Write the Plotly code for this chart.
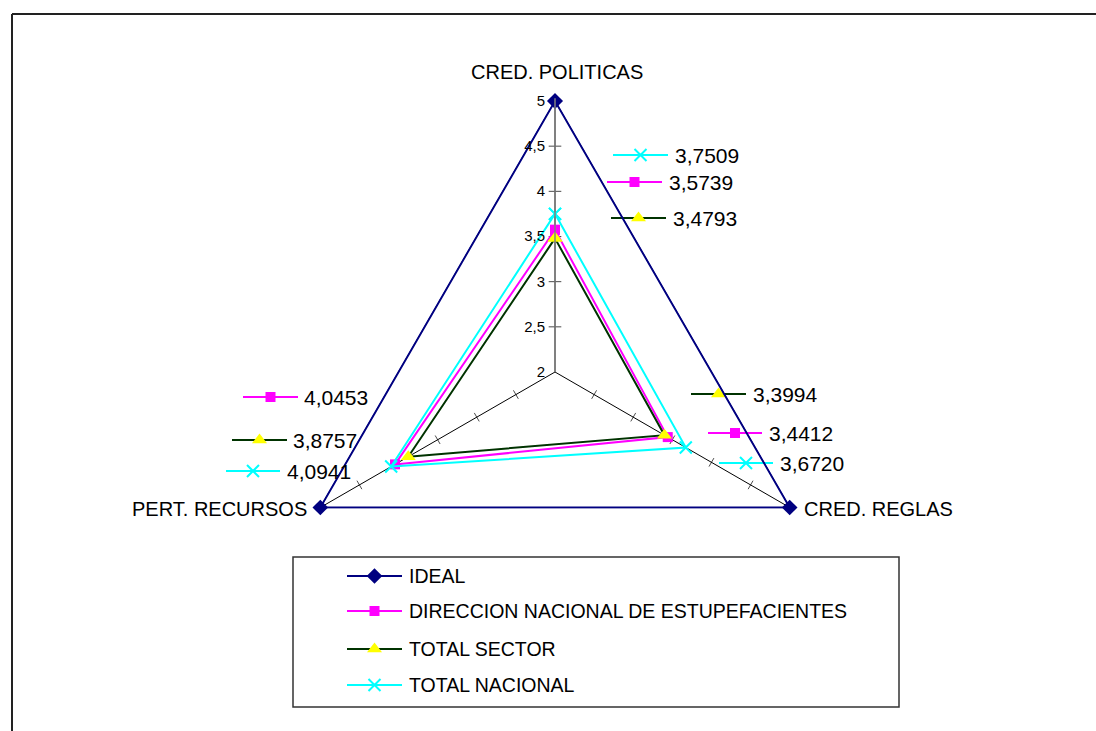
import math
import plotly.graph_objects as go

# ---------------- data ----------------
categories = ["CRED. POLITICAS", "CRED. REGLAS", "PERT. RECURSOS"]
series_names = ["IDEAL", "DIRECCION NACIONAL DE ESTUPEFACIENTES", "TOTAL SECTOR", "TOTAL NACIONAL"]
ideal = [5, 5, 5]
dne = [3.5739, 3.4412, 4.0453]
sector = [3.4793, 3.3994, 3.8757]
nacional = [3.7509, 3.6720, 4.0941]
radial_ticks = [2, 2.5, 3, 3.5, 4, 4.5, 5]
radial_tick_labels = ["2", "2,5", "3", "3,5", "4", "4,5", "5"]

# ---------------- styles ----------------
W, H = 1096, 731
FONT = "Arial, Liberation Sans, sans-serif"
styles = {
    "IDEAL": dict(line="#000080", marker="#000080", symbol="diamond", size=12, mline=0),
    "DIRECCION NACIONAL DE ESTUPEFACIENTES": dict(line="#FF00FF", marker="#FF00FF", symbol="square", size=10, mline=0),
    "TOTAL SECTOR": dict(line="#003300", marker="#FFFF00", symbol="triangle-up", size=13, mline=0),
    "TOTAL NACIONAL": dict(line="#00FFFF", marker="#00FFFF", symbol="x-thin-open", size=12, mline=2),
}
values = {
    "IDEAL": ideal,
    "DIRECCION NACIONAL DE ESTUPEFACIENTES": dne,
    "TOTAL SECTOR": sector,
    "TOTAL NACIONAL": nacional,
}

# polar placement (pixels); a small headroom beyond 5 keeps the outer line unclipped
R_MIN, R_MAX, R_TOP = 2, 5.03, 5
CX, CY, R5 = 555, 372, 271
R = R5 * (R_MAX - R_MIN) / (R_TOP - R_MIN)
dom_x = [(CX - R) / W, (CX + R) / W]
dom_y = [(H - CY - R) / H, (H - CY + R) / H]

fig = go.Figure()

def mk_marker(st):
    m = dict(symbol=st["symbol"], size=st["size"], color=st["marker"])
    if st["symbol"].endswith("open"):
        m["line"] = dict(color=st["marker"], width=st["mline"])
    else:
        m["line"] = dict(width=0)
    return m

# tick marks on the spokes
tick_r, tick_t, tick_a, tick_s = [], [], [], []
for v in radial_ticks[1:-1]:
    tick_r += [v, v, v]
    tick_t += [categories[0], categories[1], categories[2]]
    tick_a += [0, -60, 60]
    tick_s += [9, 7, 7]
fig.add_trace(go.Scatterpolar(
    r=tick_r, theta=tick_t, mode="markers", hoverinfo="skip", showlegend=False,
    marker=dict(symbol="line-ew", size=tick_s, angle=tick_a,
                line=dict(color="black", width=1), color="black"),
))

# data series (closed polygons)
for name in series_names:
    st = styles[name]
    vals = values[name]
    fig.add_trace(go.Scatterpolar(
        r=vals + [vals[0]], theta=categories + [categories[0]],
        mode="lines+markers", name=name, showlegend=False, cliponaxis=False,
        line=dict(color=st["line"], width=2),
        marker=mk_marker(st),
    ))

# ---------------- overlay (pixel coordinates) for legend & labels ----------------
annotations = []

# category labels next to the spoke ends (Excel style)
cos30, sin30 = math.cos(math.radians(30)), math.sin(math.radians(30))
cat_label_pos = [
    dict(x=CX + 2, y=CY - R5 - 29, xanchor="center"),
    dict(x=CX + R5 * cos30 + 12, y=CY + R5 * sin30 + 1, xanchor="left"),
    dict(x=CX - R5 * cos30 - 11, y=CY + R5 * sin30 + 1, xanchor="right"),
]
for cat, pos in zip(categories, cat_label_pos):
    annotations.append(dict(text=cat, xref="x", yref="y", showarrow=False, yanchor="middle",
                            font=dict(family=FONT, size=20, color="black"), **pos))

# data labels with legend keys: (series, category index, key x0, key x1, y, text x)
label_layout = [
    ("TOTAL NACIONAL", 0, 613, 668, 155, 673),
    ("DIRECCION NACIONAL DE ESTUPEFACIENTES", 0, 607, 662, 182, 667),
    ("TOTAL SECTOR", 0, 611, 666, 218, 671),
    ("TOTAL SECTOR", 1, 691, 746, 394, 751),
    ("DIRECCION NACIONAL DE ESTUPEFACIENTES", 1, 708, 762, 433, 767),
    ("TOTAL NACIONAL", 1, 719, 773, 463, 778),
    ("DIRECCION NACIONAL DE ESTUPEFACIENTES", 2, 243, 298, 397, 302),
    ("TOTAL SECTOR", 2, 232, 287, 440, 291),
    ("TOTAL NACIONAL", 2, 226, 280, 471, 285),
]
for name, ci, x0, x1, y, tx in label_layout:
    st = styles[name]
    fig.add_trace(go.Scatter(
        x=[x0, (x0 + x1) / 2, x1], y=[y, y, y], mode="lines", xaxis="x", yaxis="y",
        line=dict(color=st["line"], width=2), hoverinfo="skip", showlegend=False))
    fig.add_trace(go.Scatter(
        x=[(x0 + x1) / 2], y=[y], mode="markers", xaxis="x", yaxis="y",
        marker=mk_marker(st), hoverinfo="skip", showlegend=False))
    txt = f"{values[name][ci]:.4f}".replace(".", ",")
    annotations.append(dict(x=tx, y=y, xref="x", yref="y", text=txt, showarrow=False,
                            xanchor="left", yanchor="middle",
                            font=dict(family=FONT, size=21, color="black")))

# manual legend
legend_rows = [576, 611, 649, 685]
for name, y in zip(series_names, legend_rows):
    st = styles[name]
    fig.add_trace(go.Scatter(
        x=[347, 374.5, 402], y=[y, y, y], mode="lines", xaxis="x", yaxis="y",
        line=dict(color=st["line"], width=2), hoverinfo="skip", showlegend=False))
    fig.add_trace(go.Scatter(
        x=[374.5], y=[y], mode="markers", xaxis="x", yaxis="y",
        marker=mk_marker(st), hoverinfo="skip", showlegend=False))
    annotations.append(dict(x=407, y=y, xref="x", yref="y", text=name, showarrow=False,
                            xanchor="left", yanchor="middle",
                            font=dict(family=FONT, size=19.5, color="black")))

shapes = [
    dict(type="rect", xref="x", yref="y", x0=293, x1=899, y0=557, y1=707,
         line=dict(color="#333333", width=1.5), fillcolor="rgba(0,0,0,0)", layer="below"),
    dict(type="line", xref="x", yref="y", x0=12, x1=W, y0=14, y1=14,
         line=dict(color="#222222", width=2)),
    dict(type="line", xref="x", yref="y", x0=12, x1=12, y0=14, y1=H,
         line=dict(color="#222222", width=2)),
]

fig.update_layout(
    width=W, height=H,
    margin=dict(l=0, r=0, t=0, b=0),
    paper_bgcolor="white", plot_bgcolor="rgba(0,0,0,0)",
    font=dict(family=FONT, color="black"),
    xaxis=dict(domain=[0, 1], range=[0, W], visible=False, fixedrange=True),
    yaxis=dict(domain=[0, 1], range=[H, 0], visible=False, fixedrange=True),
    polar=dict(
        domain=dict(x=dom_x, y=dom_y),
        bgcolor="rgba(0,0,0,0)",
        gridshape="linear",
        angularaxis=dict(
            direction="clockwise", rotation=90, type="category",
            categoryarray=categories, categoryorder="array",
            showline=False, showgrid=True, gridcolor="black", gridwidth=1,
            ticks="", showticklabels=False,
        ),
        radialaxis=dict(
            range=[R_MIN, R_MAX], angle=90, side="counterclockwise",
            tickvals=radial_ticks, ticktext=radial_tick_labels,
            showgrid=False, showline=True, linecolor="#808080", linewidth=1.5,
            ticks="outside", ticklen=4, tickcolor="rgba(0,0,0,0)",
            tickfont=dict(family=FONT, size=15, color="black"),
            tickangle=90,
        ),
    ),
    annotations=annotations,
    shapes=shapes,
)

fig.write_html("out.html", config={"displayModeBar": False},
               post_script="document.body.style.margin='0';")
